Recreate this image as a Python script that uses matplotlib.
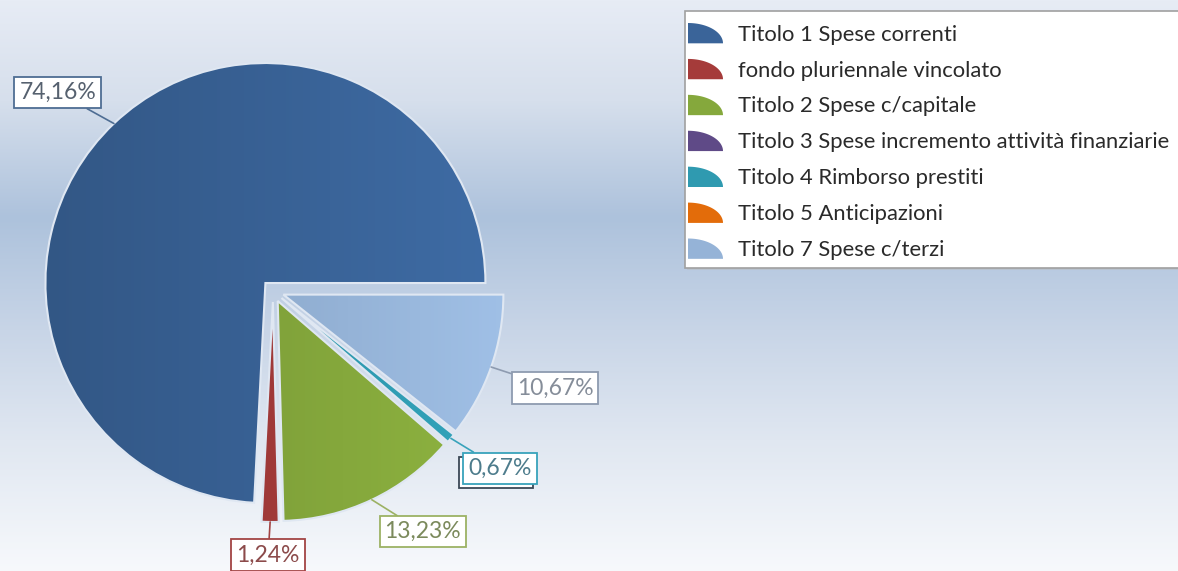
import numpy as np
import matplotlib as mpl
mpl.use('Agg')
import matplotlib.pyplot as plt
from matplotlib.patches import Polygon, Rectangle
from matplotlib.legend_handler import HandlerPatch
from matplotlib.colors import to_rgb

mpl.rcParams['font.family'] = ['Lato', 'DejaVu Sans']

# data
labels = ['Titolo 1 Spese correnti',
          'fondo pluriennale vincolato',
          'Titolo 2 Spese c/capitale',
          'Titolo 3 Spese incremento attività finanziarie',
          'Titolo 4 Rimborso prestiti',
          'Titolo 5 Anticipazioni',
          'Titolo 7 Spese c/terzi']
values = [74.16, 1.24, 13.23, 0.0, 0.67, 0.0, 10.67]
colors = ['#3a6499', '#a53b3a', '#85a83c', '#5f4a87', '#2f9ab0', '#e36c0a', '#95b3d7']

# data label styles (text colour, box edge colour, offset from slice edge in px)
lab_text = ['#56616f', '#8c4b4b', '#7b8a5c', None, '#4d7c8c', None, '#858d99']
lab_edge = ['#4e6d93', '#a24444', '#9cb264', None, '#38a3bb', None, '#8e9bb0']
lab_off = [(-56, 31), (-2, -33), (51, -32), None, (49, -30), None, (64, -21)]

W, H = 1178, 571
fig = plt.figure(figsize=(W / 100., H / 100.), dpi=100)
ax = fig.add_axes([0, 0, 1, 1])

# background gradient
stops_y = [0, 100, 217, 330, 440, 571]
stops_c = ['#e7ecf5', '#d6dfec', '#adc2dc', '#c8d5e7', '#e0e7f1', '#f7f9fc']
rows = np.arange(H)
grad = np.array([np.interp(rows, stops_y, [to_rgb(c)[k] for c in stops_c]) for k in range(3)]).T
bg = np.repeat(grad[:, None, :], 2, axis=1)
ax.imshow(bg, extent=[0, W, 0, H], aspect='auto', origin='upper', zorder=0)

# pie
cx, cy, R = 273, H - 291, 220
wedges, _ = ax.pie(values, colors=colors, startangle=0, counterclock=True,
                   radius=R, center=(cx, cy), explode=[11] * len(values), frame=True,
                   wedgeprops=dict(edgecolor='#dfe7f2', linewidth=1.5, zorder=3))

# shading inside each slice
for w, c in zip(wedges, colors):
    if w.theta2 - w.theta1 <= 0.01:
        w.set_visible(False)
        continue
    base = np.array(to_rgb(c))
    ramp = np.linspace(0.87, 1.07, 128)
    g = np.clip(base[None, :] * ramp[:, None], 0, 1)[None, :, :]
    x0, y0 = w.center
    im = ax.imshow(g, extent=[x0 - R, x0 + R, y0 - R, y0 + R], aspect='auto', zorder=2)
    im.set_clip_path(w)
    w.set_facecolor('none')

# data labels
shadow_for = None
for i, w in enumerate(wedges):
    if lab_off[i] is None:
        continue
    th = np.radians((w.theta1 + w.theta2) / 2.)
    ex = w.center[0] + R * np.cos(th)
    ey = w.center[1] + R * np.sin(th)
    txt = ('%.2f' % values[i]).replace('.', ',') + '%'
    tx, ty = ex + lab_off[i][0], ey + lab_off[i][1]
    ann = ax.annotate(txt, xy=(ex, ey), xytext=(tx, ty), ha='center', va='center',
                      fontsize=16.5, color=lab_text[i], zorder=6,
                      bbox=dict(boxstyle='square,pad=0.22', fc='white', ec=lab_edge[i], lw=1.3),
                      arrowprops=dict(arrowstyle='-', color=lab_edge[i], lw=1.2,
                                      shrinkA=0, shrinkB=0))
    if labels[i].startswith('Titolo 4'):
        shadow_for = ann

ax.set_xlim(0, W)
ax.set_ylim(0, H)
ax.axis('off')

# second (shadow) box behind the small 0,67% label
fig.canvas.draw()
if shadow_for is not None:
    bb = shadow_for.get_bbox_patch().get_window_extent()
    (bx0, by0), (bx1, by1) = ax.transData.inverted().transform([[bb.x0, bb.y0], [bb.x1, bb.y1]])
    ax.add_patch(Rectangle((bx0 - 4, by0 - 4), bx1 - bx0, by1 - by0, facecolor='white',
                           edgecolor='#3b4856', lw=1.3, zorder=5))


# legend with quarter-circle markers
class QuarterHandler(HandlerPatch):
    def create_artists(self, legend, orig_handle, xdescent, ydescent,
                       width, height, fontsize, trans):
        t = np.linspace(0, np.pi / 2, 40)
        x0, y0 = -xdescent, -ydescent
        pts = np.column_stack([x0 + width * np.cos(t), y0 + height * np.sin(t)])
        pts = np.vstack([[x0, y0], pts])
        p = Polygon(pts, closed=True, facecolor=orig_handle.get_facecolor(),
                    edgecolor='none', transform=trans)
        return [p]


# legend frame (with a faint shadow line at the bottom)
ax.add_patch(Rectangle((687, H - 270), W - 685 + 5, 257, facecolor='#b9c3cf',
                       edgecolor='none', zorder=8))
ax.add_patch(Rectangle((685, H - 268), W - 685 + 5, 257, facecolor='white',
                       edgecolor='#a0a0a0', lw=1.2, zorder=9))

handles = [Rectangle((0, 0), 1, 1, facecolor=c) for c in colors]
fs = 15.8
fpx = fs * 100 / 72.
leg = ax.legend(handles, labels, loc='upper left',
                bbox_to_anchor=(688. / W, 1 - 23. / H),
                fontsize=fs, handlelength=35 / fpx, handleheight=23 / fpx,
                handletextpad=15 / fpx, labelspacing=0.65, borderpad=0,
                borderaxespad=0, frameon=False, labelcolor='#2a2a2a',
                handler_map={Rectangle: QuarterHandler()})
leg.set_zorder(10)

fig.savefig('out.png', dpi=100)
